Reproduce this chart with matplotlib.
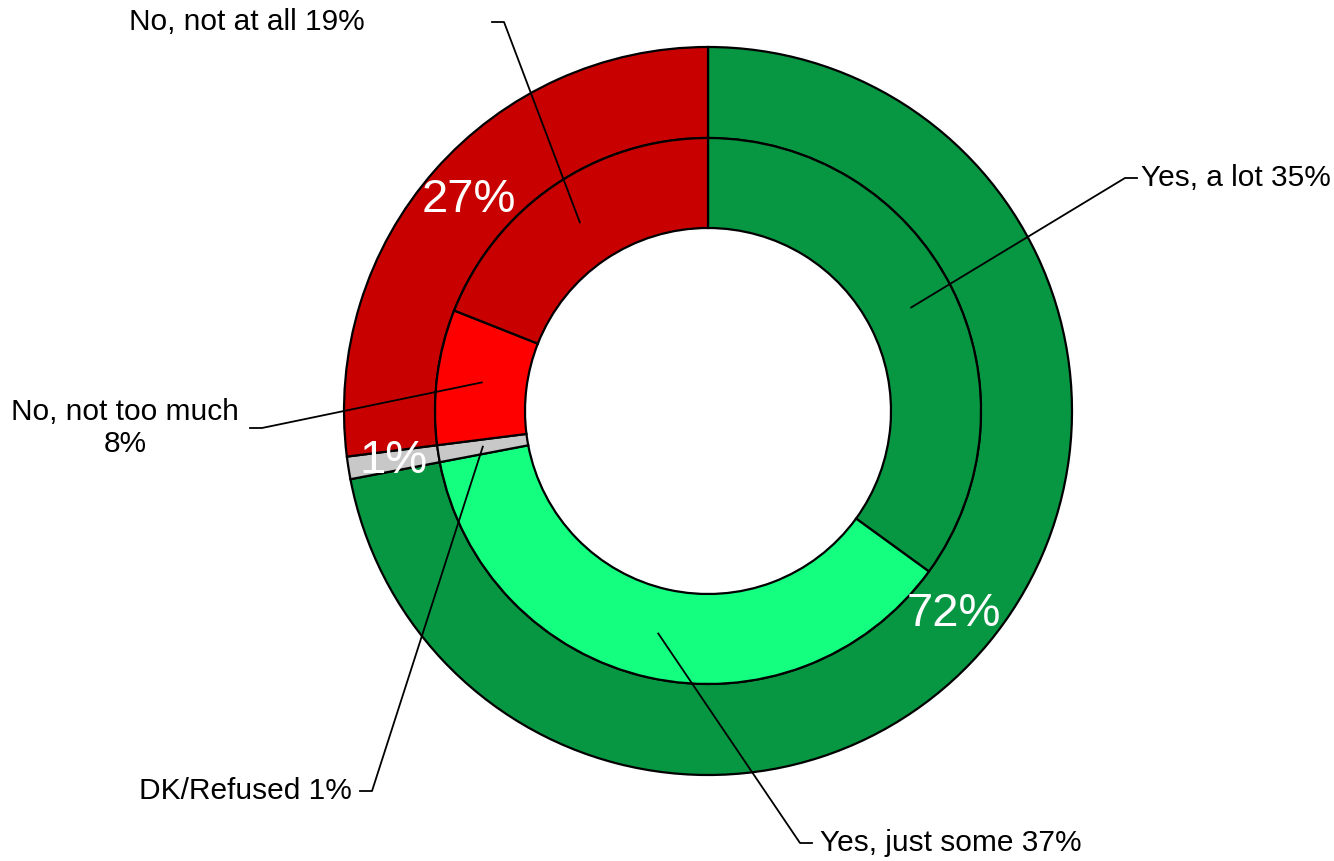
"""Nested donut: overall yes/no split outside, detailed answers inside."""

import matplotlib

matplotlib.use("Agg")
import matplotlib.pyplot as plt  # noqa: E402
import numpy as np  # noqa: E402

# data
outer_labels = ["Yes", "DK/Refused", "No"]
outer_values = [72, 1, 27]
inner_labels = ["Yes, a lot", "Yes, just some", "DK/Refused", "No, not too much", "No, not at all"]
inner_values = [35, 37, 1, 8, 19]

outer_colors = ["#079641", "#C8C8C8", "#C80000"]
inner_colors = ["#079641", "#14FF80", "#C8C8C8", "#FF0000", "#C80000"]

W, H = 1334, 861
CX, CY = 708, H - 411
R_OUT, R_MID, R_IN = 364, 273, 183

plt.rcParams["font.family"] = ["Liberation Sans", "DejaVu Sans"]

fig = plt.figure(figsize=(W / 100, H / 100), dpi=100)
ax = fig.add_axes([0, 0, 1, 1])

wp = dict(edgecolor="black", linewidth=1.6)
outer_w, _ = ax.pie(outer_values, radius=R_OUT, center=(CX, CY), startangle=90,
                    counterclock=False, colors=outer_colors,
                    wedgeprops=dict(width=R_OUT - R_MID, **wp))
inner_w, _ = ax.pie(inner_values, radius=R_MID, center=(CX, CY), startangle=90,
                    counterclock=False, colors=inner_colors,
                    wedgeprops=dict(width=R_MID - R_IN, **wp))


def mid_point(w, r):
    a = np.deg2rad((w.theta1 + w.theta2) / 2)
    return CX + r * np.cos(a), CY + r * np.sin(a)


# white percentages on the outer ring
r_lab = (R_OUT + R_MID) / 2
for w, v in zip(outer_w, outer_values):
    x, y = mid_point(w, r_lab)
    ax.text(x, y, f"{v}%", color="white", fontsize=34, ha="center", va="center")

# leader-line labels for the inner ring: text pos, align, elbow (pixel coords)
layout = [
    (1141, 178, "left", 1137, 1125),
    (820, 843, "left", 812, 800),
    (352, 791, "right", 360, 372),
    (125, 428, "center", 250, 262),
    (365, 22, "right", 492, 504),
]
r_anchor = (R_MID + R_IN) / 2
for w, lab, v, (tx, ty, ha, ex0, ex1) in zip(inner_w, inner_labels, inner_values, layout):
    text = f"{lab}\n{v}%" if lab == "No, not too much" else f"{lab} {v}%"
    ax.text(tx, H - ty, text, fontsize=21.5, ha=ha, va="center", color="black",
            multialignment="center", linespacing=1.15)
    px, py = mid_point(w, r_anchor)
    ax.plot([ex0, ex1, px], [H - ty, H - ty, py], color="black", linewidth=1.3)

ax.set_xlim(0, W)
ax.set_ylim(0, H)
ax.set_aspect("equal")
ax.axis("off")

fig.savefig("out.png", dpi=100, facecolor="white")
